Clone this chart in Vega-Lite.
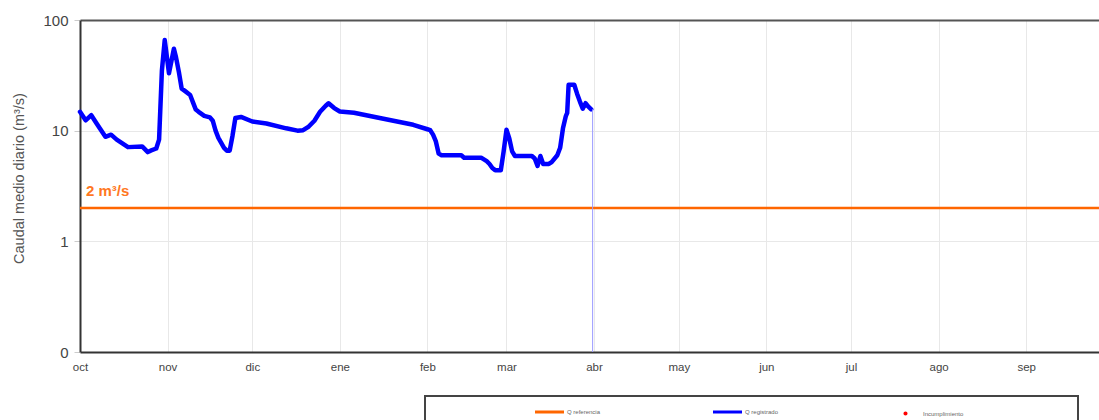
{
  "$schema": "https://vega.github.io/schema/vega-lite/v6.json",
  "width": 1019,
  "height": 332,
  "autosize": {"type": "none"},
  "padding": {"left": 80, "top": 20, "right": 0, "bottom": 68},
  "background": "white",
  "config": {"font": "Liberation Sans", "view": {"stroke": null}},
  "data": {
    "values": [
      {"fecha": "2022-10-01", "q": 14.8, "serie": "Q registrado"},
      {"fecha": "2022-10-03", "q": 12.4, "serie": "Q registrado"},
      {"fecha": "2022-10-05", "q": 13.8, "serie": "Q registrado"},
      {"fecha": "2022-10-07", "q": 11.5, "serie": "Q registrado"},
      {"fecha": "2022-10-10", "q": 8.8, "serie": "Q registrado"},
      {"fecha": "2022-10-12", "q": 9.2, "serie": "Q registrado"},
      {"fecha": "2022-10-14", "q": 8.3, "serie": "Q registrado"},
      {"fecha": "2022-10-18", "q": 7.1, "serie": "Q registrado"},
      {"fecha": "2022-10-23", "q": 7.2, "serie": "Q registrado"},
      {"fecha": "2022-10-25", "q": 6.4, "serie": "Q registrado"},
      {"fecha": "2022-10-26", "q": 6.6, "serie": "Q registrado"},
      {"fecha": "2022-10-28", "q": 6.9, "serie": "Q registrado"},
      {"fecha": "2022-10-29", "q": 8.3, "serie": "Q registrado"},
      {"fecha": "2022-10-30", "q": 35, "serie": "Q registrado"},
      {"fecha": "2022-10-31", "q": 66, "serie": "Q registrado"},
      {"fecha": "2022-11-01T12:00:00Z", "q": 33, "serie": "Q registrado"},
      {"fecha": "2022-11-03T06:00:00Z", "q": 55, "serie": "Q registrado"},
      {"fecha": "2022-11-04", "q": 46, "serie": "Q registrado"},
      {"fecha": "2022-11-05", "q": 34, "serie": "Q registrado"},
      {"fecha": "2022-11-06", "q": 24, "serie": "Q registrado"},
      {"fecha": "2022-11-07", "q": 23, "serie": "Q registrado"},
      {"fecha": "2022-11-09", "q": 21, "serie": "Q registrado"},
      {"fecha": "2022-11-10", "q": 18, "serie": "Q registrado"},
      {"fecha": "2022-11-11", "q": 15.5, "serie": "Q registrado"},
      {"fecha": "2022-11-12", "q": 14.8, "serie": "Q registrado"},
      {"fecha": "2022-11-14", "q": 13.6, "serie": "Q registrado"},
      {"fecha": "2022-11-16", "q": 13.2, "serie": "Q registrado"},
      {"fecha": "2022-11-17", "q": 12.3, "serie": "Q registrado"},
      {"fecha": "2022-11-18", "q": 10, "serie": "Q registrado"},
      {"fecha": "2022-11-19", "q": 8.6, "serie": "Q registrado"},
      {"fecha": "2022-11-21", "q": 7.0, "serie": "Q registrado"},
      {"fecha": "2022-11-22", "q": 6.6, "serie": "Q registrado"},
      {"fecha": "2022-11-23", "q": 6.6, "serie": "Q registrado"},
      {"fecha": "2022-11-24", "q": 9.0, "serie": "Q registrado"},
      {"fecha": "2022-11-25", "q": 13.0, "serie": "Q registrado"},
      {"fecha": "2022-11-27", "q": 13.3, "serie": "Q registrado"},
      {"fecha": "2022-12-01", "q": 12.1, "serie": "Q registrado"},
      {"fecha": "2022-12-06", "q": 11.6, "serie": "Q registrado"},
      {"fecha": "2022-12-13", "q": 10.5, "serie": "Q registrado"},
      {"fecha": "2022-12-17", "q": 10.0, "serie": "Q registrado"},
      {"fecha": "2022-12-19", "q": 10.1, "serie": "Q registrado"},
      {"fecha": "2022-12-21", "q": 10.9, "serie": "Q registrado"},
      {"fecha": "2022-12-23", "q": 12.3, "serie": "Q registrado"},
      {"fecha": "2022-12-25", "q": 14.8, "serie": "Q registrado"},
      {"fecha": "2022-12-27", "q": 16.8, "serie": "Q registrado"},
      {"fecha": "2022-12-28", "q": 17.7, "serie": "Q registrado"},
      {"fecha": "2022-12-30", "q": 16.0, "serie": "Q registrado"},
      {"fecha": "2023-01-01", "q": 14.9, "serie": "Q registrado"},
      {"fecha": "2023-01-06", "q": 14.5, "serie": "Q registrado"},
      {"fecha": "2023-01-16", "q": 12.9, "serie": "Q registrado"},
      {"fecha": "2023-01-27", "q": 11.3, "serie": "Q registrado"},
      {"fecha": "2023-02-01", "q": 10.3, "serie": "Q registrado"},
      {"fecha": "2023-02-02", "q": 10.1, "serie": "Q registrado"},
      {"fecha": "2023-02-03", "q": 9.2, "serie": "Q registrado"},
      {"fecha": "2023-02-04", "q": 8.0, "serie": "Q registrado"},
      {"fecha": "2023-02-05", "q": 6.2, "serie": "Q registrado"},
      {"fecha": "2023-02-06", "q": 6.0, "serie": "Q registrado"},
      {"fecha": "2023-02-13", "q": 6.0, "serie": "Q registrado"},
      {"fecha": "2023-02-14", "q": 5.7, "serie": "Q registrado"},
      {"fecha": "2023-02-20", "q": 5.7, "serie": "Q registrado"},
      {"fecha": "2023-02-22", "q": 5.3, "serie": "Q registrado"},
      {"fecha": "2023-02-23", "q": 5.0, "serie": "Q registrado"},
      {"fecha": "2023-02-24", "q": 4.6, "serie": "Q registrado"},
      {"fecha": "2023-02-25", "q": 4.4, "serie": "Q registrado"},
      {"fecha": "2023-02-27", "q": 4.4, "serie": "Q registrado"},
      {"fecha": "2023-02-28", "q": 6.5, "serie": "Q registrado"},
      {"fecha": "2023-03-01", "q": 10.2, "serie": "Q registrado"},
      {"fecha": "2023-03-02", "q": 8.5, "serie": "Q registrado"},
      {"fecha": "2023-03-03", "q": 6.5, "serie": "Q registrado"},
      {"fecha": "2023-03-04", "q": 5.9, "serie": "Q registrado"},
      {"fecha": "2023-03-10", "q": 5.9, "serie": "Q registrado"},
      {"fecha": "2023-03-11", "q": 5.6, "serie": "Q registrado"},
      {"fecha": "2023-03-12", "q": 4.8, "serie": "Q registrado"},
      {"fecha": "2023-03-13", "q": 5.9, "serie": "Q registrado"},
      {"fecha": "2023-03-14", "q": 5.0, "serie": "Q registrado"},
      {"fecha": "2023-03-16", "q": 5.0, "serie": "Q registrado"},
      {"fecha": "2023-03-17", "q": 5.2, "serie": "Q registrado"},
      {"fecha": "2023-03-19", "q": 6.0, "serie": "Q registrado"},
      {"fecha": "2023-03-20", "q": 7.0, "serie": "Q registrado"},
      {"fecha": "2023-03-21", "q": 10.5, "serie": "Q registrado"},
      {"fecha": "2023-03-22", "q": 13.5, "serie": "Q registrado"},
      {"fecha": "2023-03-22T12:00:00Z", "q": 14.5, "serie": "Q registrado"},
      {"fecha": "2023-03-23", "q": 26, "serie": "Q registrado"},
      {"fecha": "2023-03-25", "q": 26, "serie": "Q registrado"},
      {"fecha": "2023-03-26", "q": 21.6, "serie": "Q registrado"},
      {"fecha": "2023-03-27", "q": 18.3, "serie": "Q registrado"},
      {"fecha": "2023-03-28", "q": 15.8, "serie": "Q registrado"},
      {"fecha": "2023-03-29", "q": 17.7, "serie": "Q registrado"},
      {"fecha": "2023-03-30", "q": 16.5, "serie": "Q registrado"},
      {"fecha": "2023-03-31", "q": 15.6, "serie": "Q registrado"},
      {"fecha": "2023-03-31T12:00:00Z", "q": 15.6, "serie": "caida"},
      {"fecha": "2023-03-31T12:00:00Z", "q": 0.1, "serie": "caida"},
      {"fecha": "2022-10-01", "q": 2, "serie": "Q referencia", "etiqueta": "2 m³/s"}
    ]
  },
  "encoding": {
    "y": {
      "field": "q",
      "type": "quantitative",
      "scale": {"type": "log", "domain": [0.1, 100], "nice": false},
      "axis": {
        "values": [0.1, 1, 10, 100],
        "labelExpr": "datum.value < 0.5 ? '0' : format(datum.value, 'd')",
        "title": "Caudal medio diario (m³/s)",
        "titleFontSize": 14.5,
        "titleFontWeight": "normal",
        "titleColor": "#555555",
        "titlePadding": 16,
        "titleY": 158,
        "labelFontSize": 15,
        "labelColor": "#444444",
        "tickColor": "#cccccc",
        "tickSize": 6,
        "labelPadding": 6,
        "domainColor": "#333333",
        "domainWidth": 2,
        "grid": true,
        "gridColor": "#e8e8e8"
      }
    }
  },
  "layer": [
    {
      "transform": [{"filter": "datum.serie === 'Q registrado'"}],
      "mark": {"type": "line", "strokeWidth": 4.5, "strokeJoin": "round", "strokeCap": "round"},
      "encoding": {
        "x": {
          "field": "fecha",
          "type": "temporal",
          "scale": {
            "type": "utc",
            "nice": false,
            "domain": [
              {"year": 2022, "month": 10, "date": 1, "utc": true},
              {"year": 2023, "month": 9, "date": 26, "hours": 19, "utc": true}
            ]
          },
          "axis": {
            "orient": "bottom",
            "values": [
              {"year": 2022, "month": 10, "date": 1, "utc": true},
              {"year": 2022, "month": 11, "date": 1, "utc": true},
              {"year": 2022, "month": 12, "date": 1, "utc": true},
              {"year": 2023, "month": 1, "date": 1, "utc": true},
              {"year": 2023, "month": 2, "date": 1, "utc": true},
              {"year": 2023, "month": 3, "date": 1, "utc": true},
              {"year": 2023, "month": 4, "date": 1, "utc": true},
              {"year": 2023, "month": 5, "date": 1, "utc": true},
              {"year": 2023, "month": 6, "date": 1, "utc": true},
              {"year": 2023, "month": 7, "date": 1, "utc": true},
              {"year": 2023, "month": 8, "date": 1, "utc": true},
              {"year": 2023, "month": 9, "date": 1, "utc": true}
            ],
            "labelExpr": "['ene','feb','mar','abr','may','jun','jul','ago','sep','oct','nov','dic'][utcmonth(datum.value)]",
            "labelFlush": false,
            "labelFontSize": 11.5,
            "labelColor": "#444444",
            "ticks": false,
            "labelPadding": 9,
            "domainColor": "#333333",
            "domainWidth": 2,
            "grid": true,
            "gridColor": "#e8e8e8",
            "title": null
          }
        },
        "color": {
          "field": "serie",
          "type": "nominal",
          "scale": {
            "domain": ["Q referencia", "Q registrado", "Incumplimiento"],
            "range": ["#ff6600", "#0000ff", "#ff0000"]
          },
          "legend": {
            "orient": "none",
            "legendX": 345,
            "legendY": 376,
            "direction": "horizontal",
            "title": "\u00a0",
            "titleOrient": "right",
            "titlePadding": 102,
            "titleFontSize": 6,
            "padding": 13,
            "strokeColor": "#444444",
            "fillColor": "white",
            "symbolType": "M-1,0L1,0",
            "symbolSize": 841,
            "symbolStrokeWidth": 3,
            "symbolOffset": 108.5,
            "labelFontSize": 6,
            "labelColor": "#666666",
            "labelOffset": 14.5,
            "columnPadding": 15,
            "labelLimit": 200,
            "encode": {
              "legend": {"update": {"strokeWidth": {"value": 2}}},
              "symbols": {
                "update": {
                  "shape": {"signal": "datum.value === 'Incumplimiento' ? 'M-0.14,0A0.14,0.14,0,1,1,0.14,0A0.14,0.14,0,1,1,-0.14,0Z' : 'M-1,0L1,0'"},
                  "fill": {"signal": "datum.value === 'Incumplimiento' ? '#ff0000' : 'transparent'"},
                  "strokeWidth": {"signal": "datum.value === 'Incumplimiento' ? 0 : 3"}
                }
              }
            }
          }
        }
      }
    },
    {
      "transform": [{"filter": "datum.serie === 'Q referencia'"}],
      "mark": {"type": "rule", "strokeWidth": 2.5},
      "encoding": {
        "color": {"field": "serie", "type": "nominal"}
      }
    },
    {
      "transform": [{"filter": "datum.serie === 'Q referencia'"}],
      "mark": {"type": "text", "align": "left", "baseline": "alphabetic", "dx": 6, "dy": -12, "fontSize": 15, "fontWeight": "bold", "color": "#ff7722"},
      "encoding": {
        "x": {"field": "fecha", "type": "temporal", "axis": null},
        "text": {"field": "etiqueta"}
      }
    },
    {
      "transform": [{"filter": "datum.serie === 'caida'"}],
      "mark": {"type": "line", "strokeWidth": 1, "color": "#9a9aff"},
      "encoding": {
        "x": {
          "field": "fecha",
          "type": "temporal",
          "axis": {"orient": "top", "labels": false, "ticks": false, "grid": false, "domainColor": "#555555", "domainWidth": 2, "title": null}
        }
      }
    }
  ],
  "resolve": {"axis": {"x": "independent"}}
}
